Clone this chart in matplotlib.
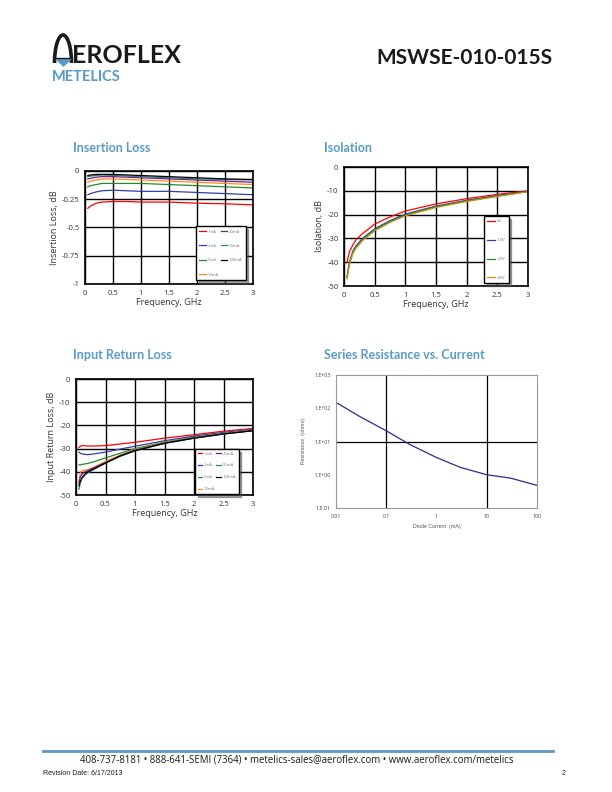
#!/usr/bin/env python3
"""MSWSE-010-015S datasheet page 2: insertion loss, isolation, return loss, series resistance."""

import matplotlib
matplotlib.use("Agg")
import matplotlib.pyplot as plt
from matplotlib.patches import Arc, Polygon

# ---- data ----
il_freq = [0.05, 0.1, 0.2, 0.3, 0.5, 0.75, 1.0, 1.5, 2.0, 2.5, 3.0]
il_labels = ["1mA", "2mA", "5mA", "10mA", "20mA", "50mA", "100mA"]
il_1ma = [-0.33, -0.31, -0.285, -0.275, -0.27, -0.27, -0.275, -0.275, -0.285, -0.29, -0.30]
il_2ma = [-0.21, -0.20, -0.185, -0.175, -0.17, -0.175, -0.18, -0.18, -0.19, -0.20, -0.21]
il_5ma = [-0.14, -0.13, -0.12, -0.11, -0.11, -0.11, -0.11, -0.12, -0.13, -0.14, -0.15]
il_10ma = [-0.10, -0.09, -0.08, -0.07, -0.07, -0.075, -0.08, -0.09, -0.10, -0.11, -0.12]
il_20ma = [-0.07, -0.065, -0.055, -0.05, -0.05, -0.055, -0.06, -0.07, -0.08, -0.09, -0.10]
il_50ma = [-0.05, -0.045, -0.04, -0.035, -0.04, -0.045, -0.05, -0.06, -0.07, -0.075, -0.08]
il_100ma = [-0.04, -0.035, -0.03, -0.03, -0.03, -0.035, -0.04, -0.05, -0.06, -0.07, -0.075]

iso_freq = [0.05, 0.075, 0.1, 0.15, 0.2, 0.3, 0.5, 0.75, 1.0, 1.5, 2.0, 2.5, 3.0]
iso_labels = ["0V", "-10V", "-20V", "-40V"]
iso_0v = [-40, -37, -35, -32.5, -30.5, -28, -24, -21, -18.5, -15.5, -13.3, -11.5, -10]
iso_10v = [-46, -42, -39, -35, -33, -30, -26, -22.5, -19.8, -16.4, -14, -12, -10.2]
iso_20v = [-46.5, -42.5, -39.5, -35.5, -33.5, -30.5, -26.4, -23, -20.2, -16.7, -14.2, -12.2, -10.3]
iso_40v = [-47, -43, -40, -36, -34, -31, -26.8, -23.3, -20.5, -17, -14.5, -12.4, -10.4]

rl_freq = [0.05, 0.075, 0.1, 0.15, 0.2, 0.3, 0.5, 0.75, 1.0, 1.5, 2.0, 2.5, 3.0]
rl_1ma = [-29.5, -29, -28.7, -28.8, -28.9, -28.9, -28.7, -28, -27.3, -25.5, -24, -22.5, -21.3]
rl_2ma = [-31.5, -32, -32.3, -32.5, -32.6, -32.3, -31.5, -30.2, -29, -26.6, -24.6, -23, -21.7]
rl_5ma = [-37, -37, -36.8, -36.6, -36.4, -35.7, -34, -32, -30, -27.2, -25.1, -23.4, -22]
rl_10ma = [-45, -40, -39.6, -39.3, -39, -38, -35.5, -32.8, -30.5, -27.4, -25.3, -23.5, -22.1]
rl_20ma = [-44.5, -42, -41, -40, -39.5, -38.3, -36, -33, -30.7, -27.6, -25.4, -23.6, -22.2]
rl_50ma = [-47.5, -44.5, -43, -41.5, -40.5, -39, -36.3, -33.3, -31, -27.8, -25.5, -23.7, -22.3]
rl_100ma = [-46, -44, -42.5, -41, -40, -38.8, -36.2, -33.2, -30.9, -27.7, -25.5, -23.7, -22.3]

sr_current = [0.01, 0.03, 0.1, 0.3, 1, 3, 10, 30, 100]
sr_ohms = [150, 56, 21, 8, 3.3, 1.66, 1.0, 0.79, 0.48]

CURRENT_COLORS = ["#ff0000", "#2f3fa8", "#238a2a", "#ff8a1c", "#7b1a86", "#2a8080", "#000000"]
BIAS_COLORS = ["#ff0000", "#2f3fa8", "#238a2a", "#c8900a"]
HEAD_BLUE = "#5a9ac8"
W, H = 612, 792

plt.rcParams["font.family"] = ["Open Sans", "DejaVu Sans"]
plt.rcParams["axes.unicode_minus"] = False


def px_axes(fig, left, top, right, bottom):
    return fig.add_axes([left / W, 1 - bottom / H, (right - left) / W, (bottom - top) / H])


def style_db_axes(ax, xlabel, ylabel):
    ax.grid(True, color="black", linewidth=1.0)
    ax.set_axisbelow(True)
    for s in ax.spines.values():
        s.set_linewidth(1.2)
    ax.tick_params(length=0, labelsize=5.5, pad=4, colors="#333333")
    ax.set_xlabel(xlabel, fontsize=6.5, labelpad=1, color="#333333")
    ax.set_ylabel(ylabel, fontsize=6.5, labelpad=2, color="#333333")


def tiny_legend(ax, ncol, corner, spacing, handle, colsp, pad=0.8):
    leg = ax.legend(ncol=ncol, loc="upper left", bbox_to_anchor=corner,
                    fontsize=3, handlelength=handle, handletextpad=0.4, labelspacing=spacing,
                    borderpad=pad, columnspacing=colsp, fancybox=False, shadow=True,
                    framealpha=1, edgecolor="black")
    leg.get_frame().set_linewidth(1.0)
    for t in leg.get_texts():
        t.set_color("#777777")
    return leg


fig = plt.figure(figsize=(W / 100, H / 100), dpi=100)

# ---- page decoration ----
deco = fig.add_axes([0, 0, 1, 1])
deco.set_xlim(0, W)
deco.set_ylim(H, 0)
deco.axis("off")
deco.add_patch(Arc((63, 63), 17, 56, theta1=180, theta2=360, lw=2.6, color="#1a1a1a"))
deco.plot([55, 71.5], [57.5, 57.5], color="#1a1a1a", lw=1.0)
deco.add_patch(Polygon([[56, 59], [71, 59], [63.5, 66]], closed=True, color=HEAD_BLUE))
deco.text(72, 63, "EROFLEX", fontsize=18, family="Lato", fontweight="bold",
          color="#1a1a1a", va="baseline")
deco.text(52, 81, "METELICS", fontsize=10.5, family="Lato", fontweight="bold",
          color=HEAD_BLUE, va="baseline")
deco.text(552, 64, "MSWSE-010-015S", fontsize=15, family="Lato", fontweight="bold",
          color="#1a1a1a", ha="right", va="baseline")

for x, y, title in [(73, 152, "Insertion Loss"), (324, 152, "Isolation"),
                    (73, 359, "Input Return Loss"), (324, 359, "Series Resistance vs. Current")]:
    deco.text(x, y, title, fontsize=9, family="Lato", fontweight="bold", color=HEAD_BLUE,
              va="baseline")

deco.plot([43, 553], [751, 751], color=HEAD_BLUE, lw=2)
deco.text(297, 762, "408-737-8181 \u2022 888-641-SEMI (7364) \u2022 metelics-sales@aeroflex.com "
          "\u2022 www.aeroflex.com/metelics", fontsize=6.9, ha="center", va="baseline",
          color="#1a1a1a")
deco.text(43, 775, "Revision Date: 6/17/2013", fontsize=5, family="Liberation Sans",
          va="baseline", color="#1a1a1a")
deco.text(566, 775, "2", fontsize=5, family="Liberation Sans", ha="right", va="baseline",
          color="#1a1a1a")

# ---- insertion loss ----
ax = px_axes(fig, 85, 171, 253, 284)
for vals, lab, c in zip([il_1ma, il_2ma, il_5ma, il_10ma, il_20ma, il_50ma, il_100ma],
                        il_labels, CURRENT_COLORS):
    ax.plot(il_freq, vals, color=c, lw=0.9, label=lab)
ax.set_xlim(0, 3)
ax.set_ylim(-1, 0)
ax.set_xticks([0, 0.5, 1, 1.5, 2, 2.5, 3])
ax.set_xticklabels(["0", "0.5", "1", "1.5", "2", "2.5", "3"])
ax.set_yticks([-1, -0.75, -0.5, -0.25, 0])
ax.set_yticklabels(["-1", "-0.75", "-0.5", "-0.25", "0"])
style_db_axes(ax, "Frequency, GHz", "Insertion Loss, dB")
tiny_legend(ax, 2, (0.649, 0.53), 2.5, 1.5, 0.5)

# ---- isolation ----
ax = px_axes(fig, 344, 167, 528, 286)
for vals, lab, c in zip([iso_0v, iso_10v, iso_20v, iso_40v], iso_labels, BIAS_COLORS):
    ax.plot(iso_freq, vals, color=c, lw=0.9, label=lab)
ax.set_xlim(0, 3)
ax.set_ylim(-50, 0)
ax.set_xticks([0, 0.5, 1, 1.5, 2, 2.5, 3])
ax.set_xticklabels(["0", "0.5", "1", "1.5", "2", "2.5", "3"])
ax.set_yticks([-50, -40, -30, -20, -10, 0])
style_db_axes(ax, "Frequency, GHz", "Isolation, dB")
tiny_legend(ax, 1, (0.75, 0.605), 3.55, 1.8, 0.8)

# ---- input return loss ----
ax = px_axes(fig, 76, 379, 253, 495)
for vals, lab, c in zip([rl_1ma, rl_2ma, rl_5ma, rl_10ma, rl_20ma, rl_50ma, rl_100ma],
                        il_labels, CURRENT_COLORS):
    ax.plot(rl_freq, vals, color=c, lw=0.9, label=lab)
ax.set_xlim(0, 3)
ax.set_ylim(-50, 0)
ax.set_xticks([0, 0.5, 1, 1.5, 2, 2.5, 3])
ax.set_xticklabels(["0", "0.5", "1", "1.5", "2", "2.5", "3"])
ax.set_yticks([-50, -40, -30, -20, -10, 0])
style_db_axes(ax, "Frequency, GHz", "Input Return Loss, dB")
tiny_legend(ax, 2, (0.661, 0.414), 1.9, 1.1, 0.3, pad=0.6)

# ---- series resistance ----
ax = px_axes(fig, 336, 375, 537, 508)
ax.plot(sr_current, sr_ohms, color="#2b2b8a", lw=0.9)
ax.set_xscale("log")
ax.set_yscale("log")
ax.set_xlim(0.01, 100)
ax.set_ylim(0.1, 1000)
ax.set_xticks([0.01, 0.1, 1, 10, 100])
ax.set_xticklabels(["0.01", "0.1", "1", "10", "100"])
ax.set_yticks([0.1, 1, 10, 100, 1000])
ax.set_yticklabels(["1.E-01", "1.E+00", "1.E+01", "1.E+02", "1.E+03"])
ax.minorticks_off()
ax.axvline(0.1, color="black", lw=0.9, zorder=0)
ax.axvline(10, color="black", lw=0.9, zorder=0)
ax.axhline(10, color="black", lw=0.9, zorder=0)
for s in ax.spines.values():
    s.set_color("#999999")
    s.set_linewidth(0.8)
ax.tick_params(length=0, labelsize=3.8, pad=4, colors="#444444")
ax.set_xlabel("Diode Current  (mA)", fontsize=3.8, family="Liberation Sans", color="#555555",
              labelpad=4)
ax.set_ylabel("Resistance  (ohms)", fontsize=3.8, family="Liberation Sans", color="#555555",
              labelpad=6)

fig.savefig("out.png", dpi=100)
